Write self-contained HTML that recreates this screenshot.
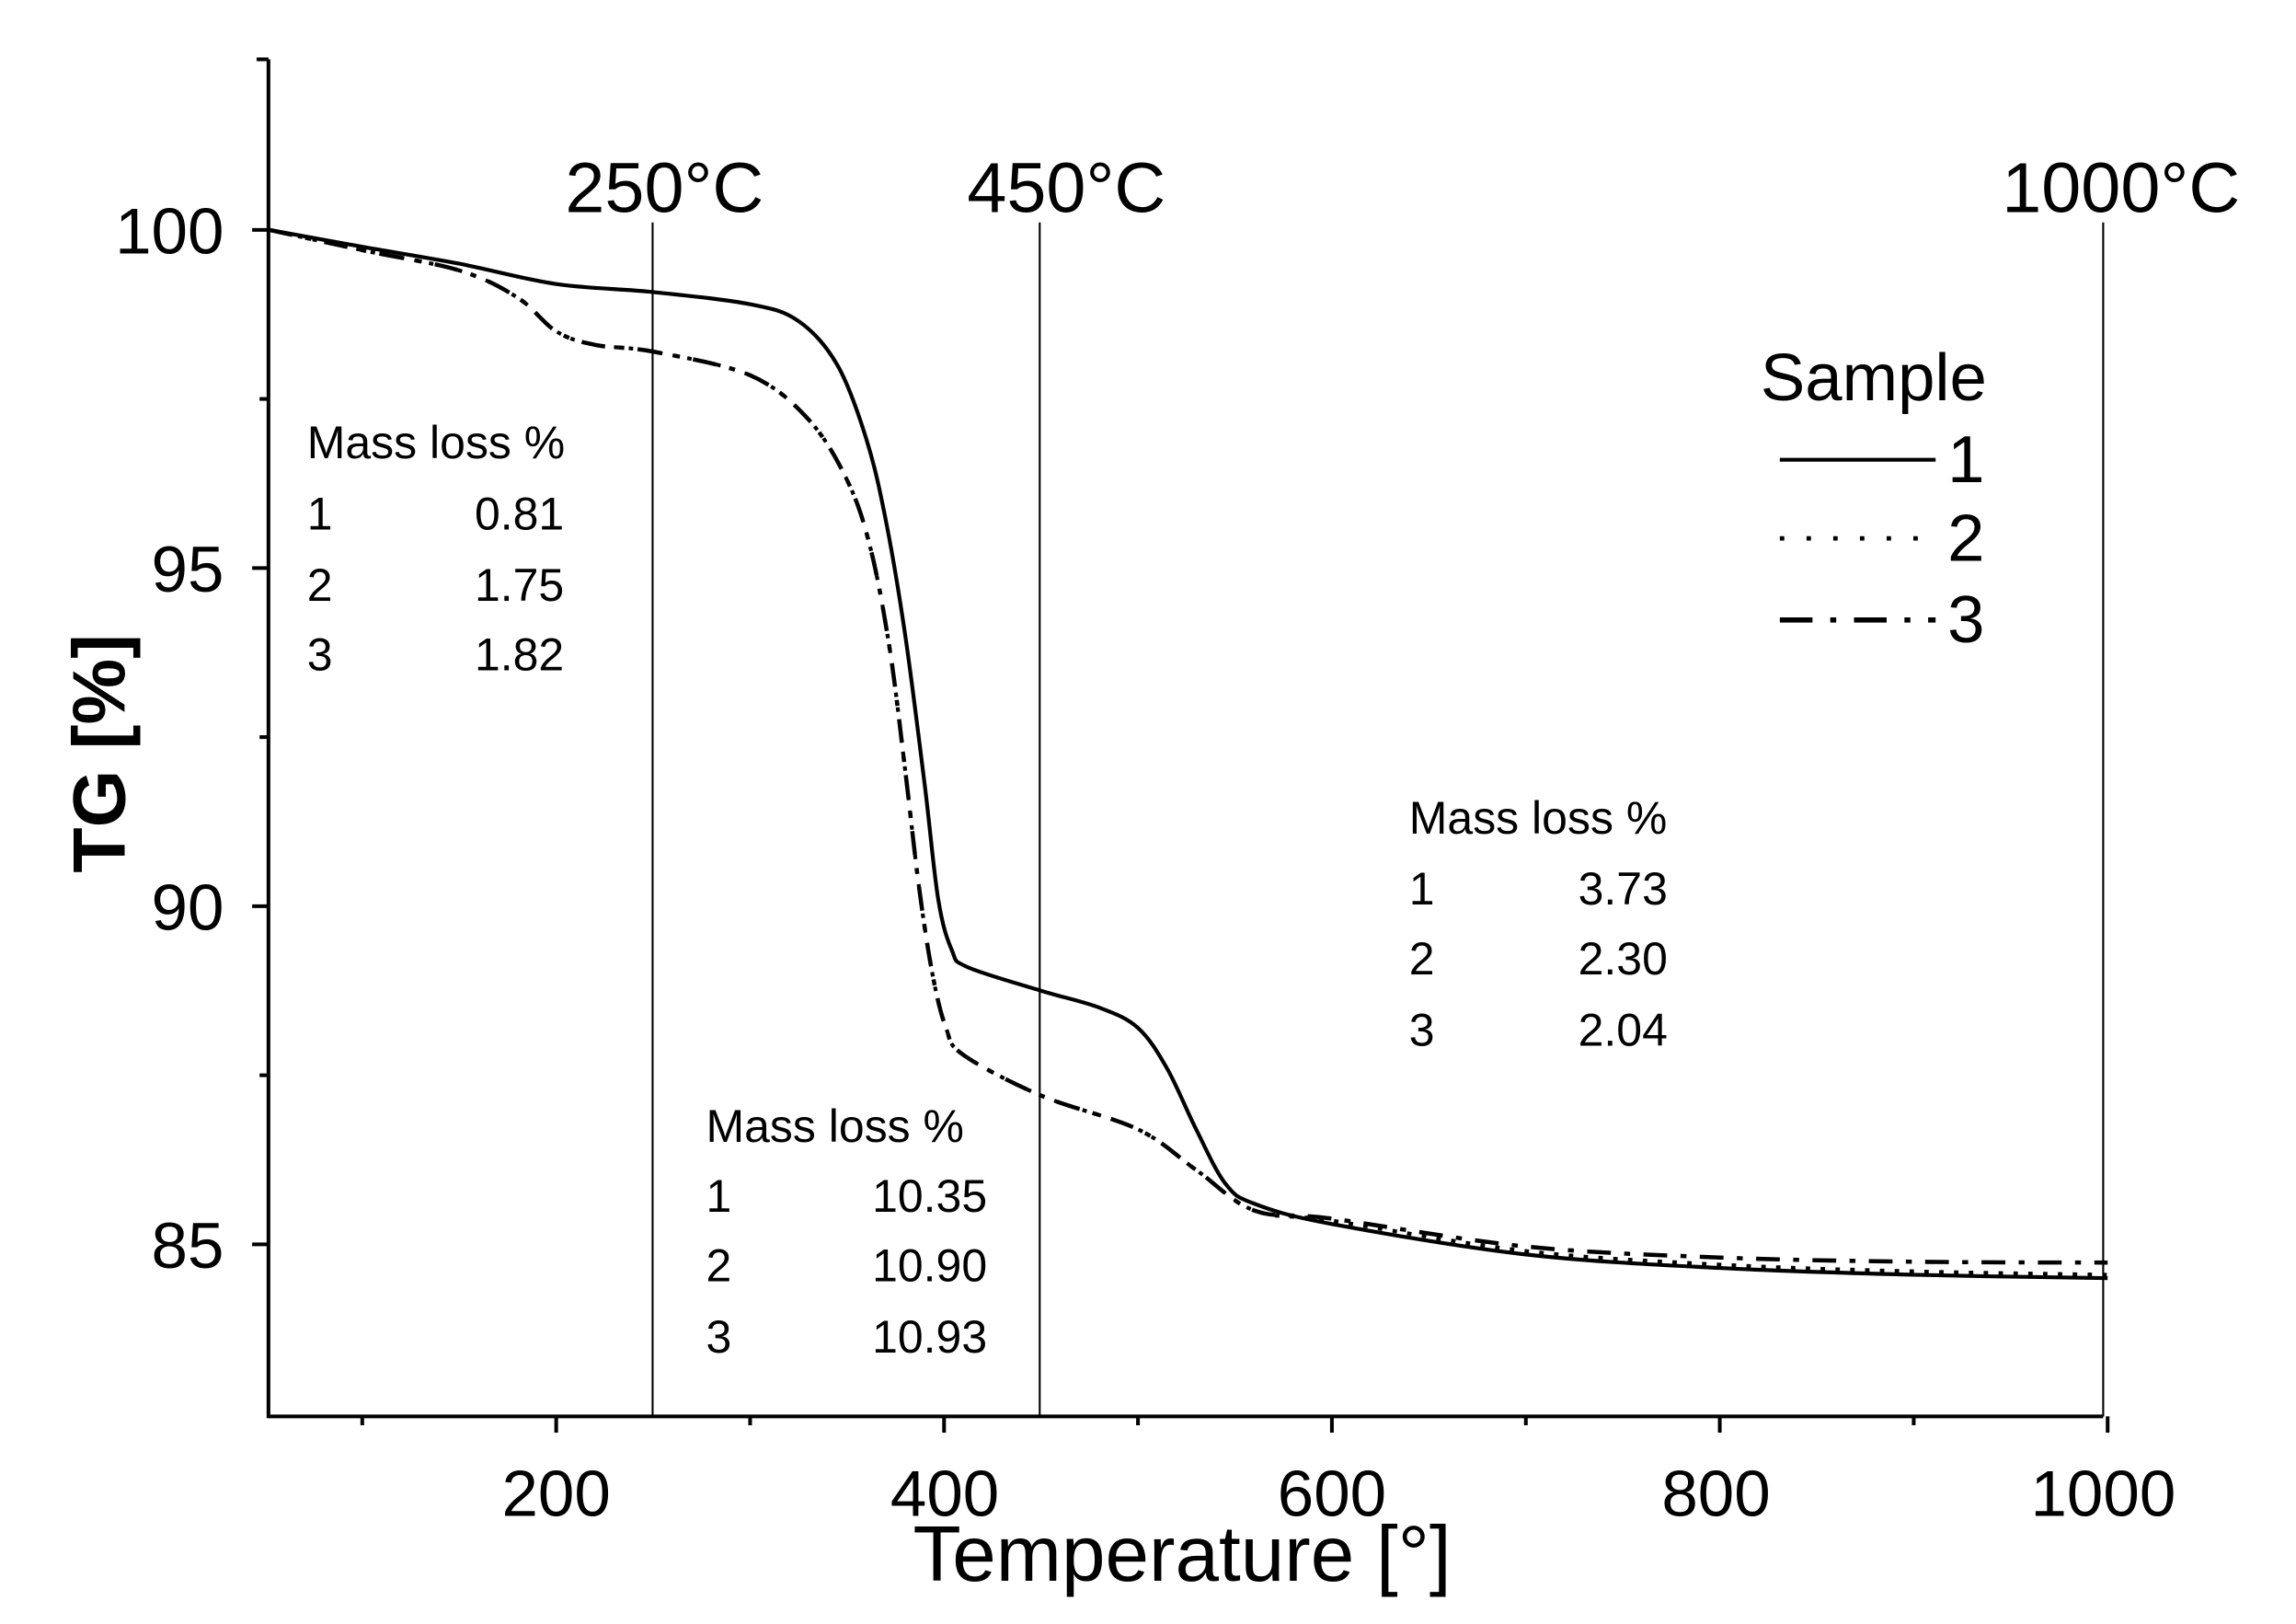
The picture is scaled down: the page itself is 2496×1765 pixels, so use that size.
<!DOCTYPE html>
<html><head><meta charset="utf-8"><style>
html,body{margin:0;padding:0;background:#fff;}
svg{display:block;}
text{font-family:"Liberation Sans",Arial,sans-serif;fill:#000;}
</style></head><body>
<svg id="s" width="2496" height="1765" viewBox="0 0 1548 1095" preserveAspectRatio="none" xmlns="http://www.w3.org/2000/svg">
<rect width="1548" height="1095" fill="#fff"/>
<g stroke="#000" fill="none">
<line x1="181" y1="40" x2="181" y2="956" stroke-width="2.5"/>
<line x1="180" y1="955" x2="1418" y2="955" stroke-width="2.5"/>
<line x1="181" y1="40" x2="173" y2="40" stroke-width="2.5"/>
<g id="ticks" stroke-width="2.5"></g>
<line x1="440" y1="150" x2="440" y2="955" stroke-width="1.3"/>
<line x1="701" y1="150" x2="701" y2="955" stroke-width="1.3"/>
<line x1="1418" y1="150" x2="1418" y2="955" stroke-width="1.3"/>
<path id="c3" stroke-width="2.8" stroke-dasharray="16,9,4,9"/>
<path id="c2" stroke-width="2.6" stroke-dasharray="3,7"/>
<path id="c1" stroke-width="2.6"/>
<line x1="1200" y1="310" x2="1305" y2="310" stroke-width="2.6"/>
<line x1="1200" y1="363" x2="1305" y2="363" stroke-width="3" stroke-dasharray="3,15"/>
<line x1="1200" y1="418" x2="1305" y2="418" stroke-width="3.5" stroke-dasharray="22,12,4,12"/>
</g>
<g font-size="44" text-anchor="end">
<text x="151" y="171">100</text><text x="151" y="399">95</text>
<text x="151" y="627">90</text><text x="151" y="855">85</text>
</g>
<g font-size="44" text-anchor="middle">
<text x="375" y="1022">200</text><text x="637" y="1022">400</text>
<text x="898" y="1022">600</text><text x="1157" y="1022">800</text>
<text x="1418" y="1022">1000</text>
</g>
<text x="797" y="1066" font-size="53" text-anchor="middle">Temperature [°]</text>
<text transform="translate(84,508) rotate(-90)" font-size="50" font-weight="bold" text-anchor="middle">TG [%]</text>
<g font-size="48" text-anchor="middle">
<text x="448" y="143">250°C</text><text x="719" y="143">450°C</text><text x="1430" y="143">1000°C</text>
</g>
<text x="1187" y="270" font-size="45">Sample</text>
<g font-size="45"><text x="1313" y="325">1</text><text x="1313" y="378">2</text><text x="1313" y="433">3</text></g>
<g font-size="31">
<text x="207" y="309">Mass loss %</text>
<text x="207" y="357">1</text><text x="320" y="357">0.81</text>
<text x="207" y="405">2</text><text x="320" y="405">1.75</text>
<text x="207" y="452">3</text><text x="320" y="452">1.82</text>
<text x="950" y="562">Mass loss %</text>
<text x="950" y="610">1</text><text x="1064" y="610">3.73</text>
<text x="950" y="657">2</text><text x="1064" y="657">2.30</text>
<text x="950" y="705">3</text><text x="1064" y="705">2.04</text>
<text x="476" y="770">Mass loss %</text>
<text x="476" y="817">1</text><text x="588" y="817">10.35</text>
<text x="476" y="864">2</text><text x="588" y="864">10.90</text>
<text x="476" y="912">3</text><text x="588" y="912">10.93</text>
</g>
</svg>
<script>
function X(t){return 375+(t-200)*1.3075;}
function Y(v){return 155+(100-v)*45.6;}
var tk='';
for(var t=100;t<=1000;t+=100){var big=t%200==0;tk+='<line x1="'+X(t)+'" y1="955" x2="'+X(t)+'" y2="'+(big?966:961)+'"/>';}
for(var v=85;v<=100;v+=2.5){var big=v%5==0;tk+='<line x1="181" y1="'+Y(v)+'" x2="'+(big?170:175)+'" y2="'+Y(v)+'"/>';}
document.getElementById('ticks').innerHTML=tk;
function cr(p){p=p.map(function(a){return [X(a[0]),Y(a[1])];});
var d='M'+p[0][0]+','+p[0][1];
for(var i=0;i<p.length-1;i++){var p0=p[i-1]||p[i],p1=p[i],p2=p[i+1],p3=p[i+2]||p2;
d+='C'+(p1[0]+(p2[0]-p0[0])/6)+','+(p1[1]+(p2[1]-p0[1])/6)+' '+(p2[0]-(p3[0]-p1[0])/6)+','+(p2[1]-(p3[1]-p1[1])/6)+' '+p2[0]+','+p2[1];}
return d;}
var c1=[[52,100],[100,99.75],[150,99.5],[200,99.2],[250,99.08],[300,98.9],[325,98.65],[345,98.0],[360,96.9],[370,95.7],[380,94.0],[390,91.8],[397,90.1],[404,89.35],[412,89.1],[450,88.75],[480,88.5],[500,88.2],[515,87.6],[530,86.7],[545,85.9],[560,85.6],[600,85.3],[700,84.85],[800,84.65],[900,84.55],[1000,84.5]];
var c2=[[52,100],[100,99.7],[150,99.4],[180,99],[200,98.5],[220,98.3],[250,98.2],[300,97.85],[330,97.2],[350,96.3],[362,95.3],[372,93.8],[380,92],[387,90.3],[394,89],[401,88.2],[410,87.8],[450,87.2],[500,86.7],[530,86.1],[560,85.5],[600,85.35],[700,84.9],[800,84.7],[900,84.6],[1000,84.55]];
var c3=c2.map(function(a){var t=a[0],v=a[1];if(t>=600)v+=(t-600)/400*0.15+0.03;return [t,v];});
document.getElementById('c1').setAttribute('d',cr(c1));
document.getElementById('c2').setAttribute('d',cr(c2));
document.getElementById('c3').setAttribute('d',cr(c3));
</script>
</body></html>
